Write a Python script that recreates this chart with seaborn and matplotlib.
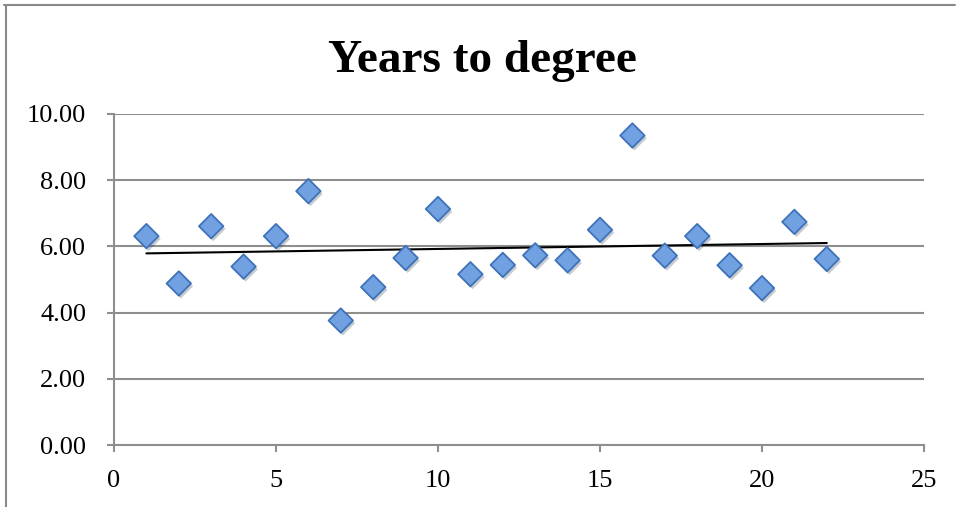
import matplotlib
matplotlib.use("Agg")
import matplotlib.pyplot as plt
import matplotlib.patheffects as pe
from matplotlib.lines import Line2D
import seaborn as sns
import pandas as pd

# Data
student = [1, 2, 3, 4, 5, 6, 7, 8, 9, 10, 11, 12, 13, 14, 15, 16, 17, 18, 19, 20, 21, 22]
years = [6.31, 4.88, 6.61, 5.39, 6.31, 7.67, 3.76, 4.77, 5.65, 7.13, 5.16,
         5.44, 5.73, 5.58, 6.50, 9.35, 5.72, 6.31, 5.43, 4.74, 6.74, 5.62]
title = "Years to degree"
x_ticks = [0, 5, 10, 15, 20, 25]
y_ticks = [0, 2, 4, 6, 8, 10]

df = pd.DataFrame({"x": student, "y": years})

sns.set_theme(style="white")
plt.rcParams["font.family"] = ["Liberation Serif", "DejaVu Serif"]

fig = plt.figure(figsize=(9.56, 5.07), dpi=100)
ax = fig.add_axes([114 / 956, 62 / 507, 810 / 956, 331 / 507])

grid_col = "#8e8e8e"
ax.set_xlim(0, 25)
ax.set_ylim(0, 10)
ax.set_xticks(x_ticks)
ax.set_yticks(y_ticks)
ax.set_yticklabels([f"{v:.2f}" for v in y_ticks])
ax.yaxis.grid(True, color=grid_col, linewidth=1.5)
ax.xaxis.grid(False)
ax.set_axisbelow(True)

# trend line (linear fit)
sns.regplot(data=df, x="x", y="y", ax=ax, scatter=False, ci=None, truncate=True,
            line_kws={"color": "black", "linewidth": 1.5, "zorder": 3})

# diamond markers
sns.scatterplot(data=df, x="x", y="y", ax=ax, marker="D", s=155,
                color="#72a1e2", edgecolor="#3e72b8", linewidth=1.3, zorder=4)
for coll in ax.collections:
    coll.set_path_effects([pe.SimplePatchShadow(offset=(1.5, -2), alpha=0.25),
                           pe.Normal()])

ax.set_xlabel("")
ax.set_ylabel("")

for side in ["top", "right"]:
    ax.spines[side].set_visible(False)
for side in ["left", "bottom"]:
    ax.spines[side].set_color(grid_col)
    ax.spines[side].set_linewidth(1.5)

ax.tick_params(axis="both", which="both", direction="out", length=5, width=1.5,
               color=grid_col, labelsize=19, labelcolor="black")
ax.tick_params(axis="y", pad=15)
ax.tick_params(axis="x", pad=13)
ax.tick_params(left=True, bottom=True)

fig.text(482 / 956, 1 - 72 / 507, title, ha="center", va="baseline",
         fontsize=34, fontweight="bold", color="black")

# outer chart frame (top and left edges visible)
fig.add_artist(Line2D([4 / 956, 955 / 956], [1 - 5 / 507, 1 - 5 / 507],
                      transform=fig.transFigure, color="#8a8a8a", linewidth=1.5))
fig.add_artist(Line2D([6 / 956, 6 / 956], [1 - 5 / 507, 0],
                      transform=fig.transFigure, color="#8a8a8a", linewidth=1.5))

fig.savefig("out.png", dpi=100, facecolor="white")
